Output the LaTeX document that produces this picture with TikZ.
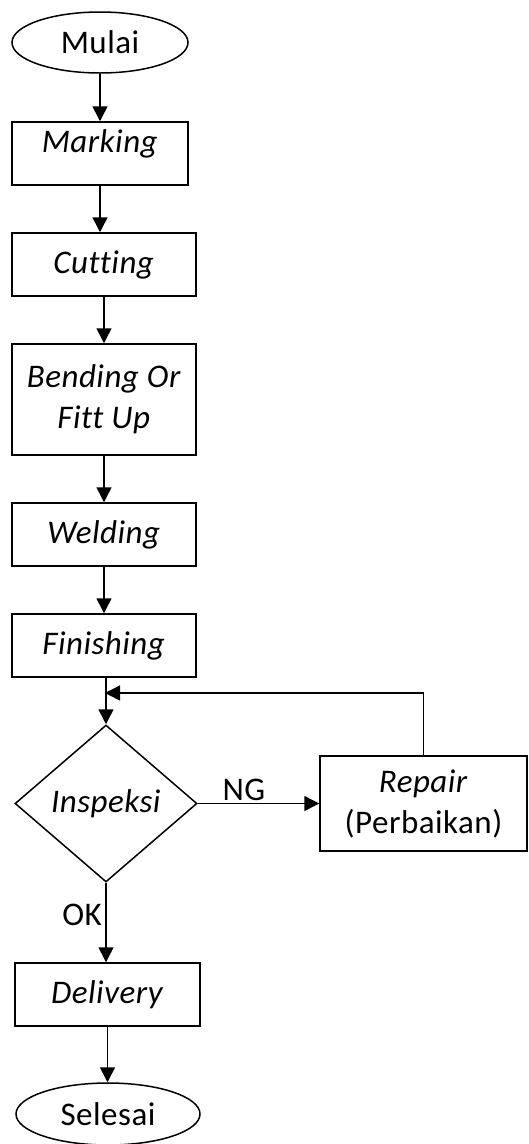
\documentclass[tikz,border=0pt]{standalone}
\usepackage{fontspec}
\setmainfont{Carlito}[Ligatures={NoCommon},LetterSpace=1.5]
\usetikzlibrary{shapes.geometric,arrows.meta}
\begin{document}
\begin{tikzpicture}[x=1pt,y=-1pt,
  every node/.style={font=\fontsize{33}{41}\selectfont},
  stepbox/.style={draw,line width=1.5pt,rectangle,inner sep=0pt,align=center},
  term/.style={draw,line width=1.5pt,ellipse,inner sep=0pt},
  decide/.style={draw,line width=1.5pt,diamond,inner sep=0pt,minimum width=182pt,minimum height=157pt,shape aspect=1.16},
  arr/.style={line width=1.5pt,-{Triangle[length=15pt,width=15pt]}},
  ln/.style={line width=1.5pt}]
\useasboundingbox (0,0) rectangle (529,1144);
\node[term,minimum width=176pt,minimum height=61pt] (mulai) at (100,42.5) {Mulai};
\node[stepbox,minimum width=176pt,minimum height=63pt] (marking) at (100,153.5) {\raisebox{10pt}[\height][\depth]{\textit{Marking}}};
\node[stepbox,minimum width=184pt,minimum height=63pt] (cutting) at (104,264.5) {\textit{Cutting}};
\node[stepbox,minimum width=184pt,minimum height=111pt] (bending) at (104,399.5) {\textit{Bending Or}\\\textit{Fitt Up}};
\node[stepbox,minimum width=184pt,minimum height=63pt] (welding) at (104,534.5) {\textit{Welding}};
\node[stepbox,minimum width=184pt,minimum height=63pt] (finishing) at (104,645.5) {\textit{Finishing}};
\node[decide] (inspeksi) at (106,803.5) {\textit{Inspeksi}};
\node[stepbox,minimum width=207pt,minimum height=95pt] (repair) at (423.5,803.5) {\textit{Repair}\\(Perbaikan)};
\node[stepbox,minimum width=185pt,minimum height=63pt] (delivery) at (107.5,994.5) {\textit{Delivery}};
\node[term,minimum width=184pt,minimum height=62pt] (selesai) at (108,1114) {Selesai};
\coordinate (join) at (105,693);
\node (ng) at (244,790) {NG};
\node (ok) at (82,915) {OK};
\draw[arr] (mulai) -- (marking);
\draw[arr] (marking.south) -- (marking.south |- cutting.north);
\draw[arr] (cutting) -- (bending);
\draw[arr] (bending) -- (welding);
\draw[arr] (welding) -- (finishing);
\draw[arr] (finishing.south -| inspeksi.north) -- (inspeksi.north);
\draw[arr] (repair.north) |- (join);
\draw[arr] (inspeksi.east) -- (repair.west);
\draw[arr] (inspeksi.south) -- (inspeksi.south |- delivery.north);
\draw[arr] (delivery.south) -- (delivery.south |- selesai.north);
\end{tikzpicture}
\end{document}
